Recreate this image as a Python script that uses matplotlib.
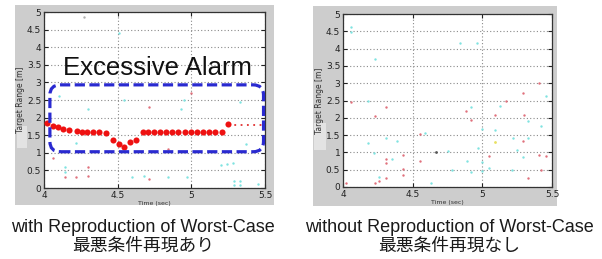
import matplotlib
matplotlib.use('Agg')
import matplotlib.pyplot as plt
from matplotlib.patches import Rectangle, FancyBboxPatch

# worst-case run: tracked target (big red dots)
track_t = [4.018, 4.059, 4.097, 4.131, 4.172, 4.222, 4.256, 4.294, 4.335, 4.375,
           4.421, 4.471, 4.507, 4.543, 4.584, 4.625, 4.670, 4.708, 4.747, 4.788,
           4.828, 4.867, 4.912, 4.957, 4.996, 5.036, 5.077, 5.122, 5.161, 5.206, 5.247]
track_r = [1.84, 1.76, 1.72, 1.68, 1.66, 1.62, 1.59, 1.58, 1.58, 1.58,
           1.57, 1.36, 1.25, 1.16, 1.30, 1.36, 1.59, 1.59, 1.59, 1.58,
           1.58, 1.58, 1.58, 1.58, 1.58, 1.58, 1.58, 1.58, 1.58, 1.58, 1.83]
trail_t = [5.25, 5.49]
trail_r = [1.8, 1.8]

# worst-case run: stray detections
w_cyan_t = [4.51, 4.10, 4.30, 4.54, 4.95, 4.93, 5.33, 4.14, 4.14, 4.60, 4.68, 4.84,
            4.97, 5.20, 5.24, 5.28, 5.37, 5.29, 5.33, 5.29, 5.33, 5.45, 4.22]
w_cyan_r = [4.40, 2.60, 2.25, 2.50, 2.50, 2.25, 2.45, 0.60, 0.45, 0.30, 0.35, 0.30,
            0.30, 0.65, 0.68, 0.70, 1.25, 0.20, 0.20, 0.08, 0.08, 0.10, 1.28]
w_red_t = [4.71, 5.00, 4.06, 4.14, 4.22, 4.30, 4.30, 4.71, 4.84]
w_red_r = [2.30, 2.70, 0.85, 0.30, 0.30, 0.60, 0.35, 0.25, 1.10]
w_gray_t = [4.27]
w_gray_r = [4.85]

# normal run: stray detections only
n_cyan_t = [4.06, 4.06, 4.18, 4.23, 4.18, 4.22, 4.26, 4.31, 4.35, 4.39, 4.59, 4.63,
            4.75, 4.78, 4.84, 4.92, 4.89, 4.92, 4.96, 4.97, 5.00, 5.00, 5.00, 5.05,
            5.09, 5.13, 5.22, 5.21, 5.25, 5.29, 5.33, 5.33, 5.42, 5.46]
n_cyan_r = [4.63, 4.49, 2.50, 3.69, 1.27, 0.98, 0.30, 1.41, 0.80, 1.34, 1.56, 0.13,
            1.03, 0.50, 4.15, 2.31, 0.74, 0.42, 4.17, 1.12, 1.67, 0.71, 0.45, 0.55,
            1.65, 2.33, 1.41, 0.48, 1.06, 0.86, 1.92, 1.41, 1.77, 2.62]
n_red_t = [4.06, 4.02, 4.23, 4.23, 4.26, 4.31, 4.31, 4.31, 4.31, 4.43, 4.43, 4.43,
           4.55, 4.55, 4.88, 4.92, 5.05, 5.09, 5.17, 5.29, 5.29, 5.30, 5.33, 5.41,
           5.41, 5.42, 5.46]
n_red_r = [2.47, 0.13, 2.04, 0.13, 0.16, 2.30, 0.80, 0.70, 0.26, 0.93, 0.52, 0.34,
           1.54, 0.74, 2.20, 1.94, 0.90, 2.09, 2.50, 2.71, 1.32, 2.09, 0.26, 3.02,
           0.93, 0.50, 0.90]
n_dark_t = [4.67]
n_dark_r = [1.00]
n_yellow_t = [5.09]
n_yellow_r = [1.29]

x_ticks = [4, 4.5, 5, 5.5]
x_labels = ['4', '4.5', '5', '5.5']
y_ticks = [0, 0.5, 1, 1.5, 2, 2.5, 3, 3.5, 4, 4.5, 5]
y_labels = ['0', '0.5', '1', '1.5', '2', '2.5', '3', '3.5', '4', '4.5', '5']

captions = [('with Reproduction of Worst-Case', '最悪条件再現あり'),
            ('without Reproduction of Worst-Case', '最悪条件再現なし')]

W, H = 602, 259
fig = plt.figure(figsize=(W / 100, H / 100), dpi=100)
fig.patch.set_facecolor('white')


def px_rect(x0, y0, x1, y1):
    # pixel box (top-left origin) -> figure fraction rect
    return [x0 / W, 1 - y1 / H, (x1 - x0) / W, (y1 - y0) / H]


GRAY = '#cdcdcd'
CYAN = '#7fe3e0'
RED = '#e0707c'

frames = [(15, 5, 274, 205), (313, 6, 557, 206)]
axes_px = [(44, 12, 265, 188), (343, 14, 552, 187)]
label_patch = [(17, 126, 27, 148), (314, 123, 326, 150)]

axs = []
for (f, a, lp) in zip(frames, axes_px, label_patch):
    r = px_rect(*f)
    fig.patches.append(Rectangle((r[0], r[1]), r[2], r[3], transform=fig.transFigure,
                                 facecolor=GRAY, edgecolor='none', zorder=-2))
    r = px_rect(*lp)
    fig.patches.append(Rectangle((r[0], r[1]), r[2], r[3], transform=fig.transFigure,
                                 facecolor='#e3e3e3', edgecolor='none', zorder=-1))
    ax = fig.add_axes(px_rect(*a))
    ax.set_zorder(2)
    ax.set_facecolor('white')
    ax.set_xlim(4, 5.5)
    ax.set_ylim(0, 5)
    ax.set_xticks(x_ticks)
    ax.set_xticklabels(x_labels)
    ax.set_yticks(y_ticks)
    ax.set_yticklabels(y_labels)
    ax.tick_params(direction='in', length=3, width=0.8, labelsize=6.5, pad=2,
                   top=True, right=True, colors='#222222')
    ax.grid(True, color='#8a8a8a', linestyle=(0, (1, 2)), linewidth=0.8)
    ax.set_axisbelow(True)
    for s in ax.spines.values():
        s.set_linewidth(0.9)
        s.set_color('#333333')
    ax.set_ylabel('Target Range [m]', fontsize=5.5, labelpad=1, color='#333333')
    ax.set_xlabel('Time (sec)', fontsize=4.5, labelpad=1, color='#333333')
    axs.append(ax)

ax1, ax2 = axs

# worst-case panel
ax1.scatter(w_cyan_t, w_cyan_r, s=3, color=CYAN, zorder=3, linewidths=0)
ax1.scatter(w_red_t, w_red_r, s=3, color=RED, zorder=3, linewidths=0)
ax1.scatter(w_gray_t, w_gray_r, s=3, color='#b0b0b0', zorder=3, linewidths=0)
ax1.plot(trail_t, trail_r, color='#e03030', linestyle=(0, (1, 2.5)), linewidth=1.3,
         zorder=4, clip_on=False)
ax1.plot(track_t, track_r, 'o', color='#ee1111', markersize=4.4, markeredgewidth=0,
         zorder=5)

# dashed rounded box around the false alarm
box_x0, box_x1 = 4.04, 5.49
box_y0, box_y1 = 1.03, 2.93
x_per_px = 1.5 / (axes_px[0][2] - axes_px[0][0])
y_per_px = 5.0 / (axes_px[0][3] - axes_px[0][1])
box = FancyBboxPatch((box_x0, box_y0), box_x1 - box_x0, box_y1 - box_y0,
                     boxstyle='round,pad=0,rounding_size=0.07',
                     mutation_aspect=y_per_px / x_per_px,
                     facecolor='none', edgecolor='#2a2ad0', linewidth=2.3,
                     linestyle=(0, (3.2, 1.4)), zorder=6, clip_on=False)
ax1.add_patch(box)
ax1.text(4.767, 3.21, 'Excessive Alarm', fontsize=18.5, family='Liberation Sans',
         ha='center', va='baseline', color='#111111', zorder=7)

# normal panel
ax2.scatter(n_cyan_t, n_cyan_r, s=3, color=CYAN, zorder=3, linewidths=0)
ax2.scatter(n_red_t, n_red_r, s=3, color=RED, zorder=3, linewidths=0)
ax2.scatter(n_dark_t, n_dark_r, s=4, color='#555555', zorder=3, linewidths=0)
ax2.scatter(n_yellow_t, n_yellow_r, s=4, color='#e8e060', zorder=3, linewidths=0)

for (cx, (en, jp)) in zip([143, 449], captions):
    fig.text(cx / W, 1 - 232 / H, en, fontsize=13, family='Liberation Sans',
             ha='center', va='baseline', color='#1a1a1a')
    fig.text(cx / W, 1 - 246 / H, jp, fontsize=12.8,
             family=['Noto Sans CJK JP', 'DejaVu Sans'],
             ha='center', va='center', color='#1a1a1a')

fig.savefig('out.png', dpi=100)
